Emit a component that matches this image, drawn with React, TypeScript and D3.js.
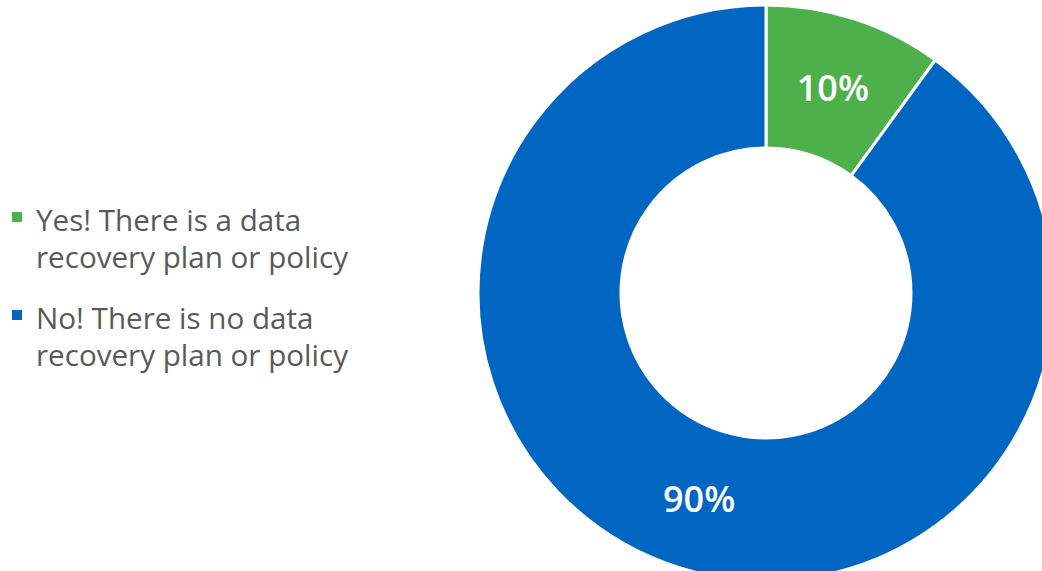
import React from "react";
import * as d3 from "d3";

const categories = [
  "Yes! There is a data recovery plan or policy",
  "No! There is no data recovery plan or policy",
];
const values = [10, 90];
const legendLines = [
  ["Yes! There is a data", "recovery plan or policy"],
  ["No! There is no data", "recovery plan or policy"],
];
const colors = ["#4EB04B", "#0066C2"];

const W = 1042;
const H = 571;
const cx = 766;
const cy = 293;
const outerR = 288;
const innerR = 145;

export default function App() {
  const pie = d3.pie<number>().sort(null).value((d) => d);
  const arcs = pie(values);
  const arc = d3.arc<d3.PieArcDatum<number>>().innerRadius(innerR).outerRadius(outerR);
  const total = d3.sum(values);
  const fmt = (v: number) => `${Math.round((v / total) * 100)}%`;

  return (
    <svg
      width={W}
      height={H}
      style={{ position: "absolute", left: 0, top: 0, background: "#fff" }}
      fontFamily="'Open Sans', sans-serif"
    >
      <g transform={`translate(${cx},${cy})`}>
        {arcs.map((a, i) => (
          <path key={categories[i]} d={arc(a) || ""} fill={colors[i]} stroke="#fff" strokeWidth={3} />
        ))}
        {arcs.map((a, i) => {
          const [x, y] = arc.centroid(a);
          return (
            <text
              key={"l" + i}
              x={x}
              y={y}
              fill="#fff"
              fontSize={36}
              fontWeight={600}
              textAnchor="middle"
              dominantBaseline="central"
            >
              {fmt(a.data)}
            </text>
          );
        })}
      </g>
      {legendLines.map((lines, i) => {
        const y0 = 231 + i * 98;
        return (
          <g key={"leg" + i}>
            <rect x={12} y={y0 - 19} width={10} height={10} fill={colors[i]} />
            {lines.map((t, j) => (
              <text key={j} x={36} y={y0 + j * 37} fontSize={29.6} fill="#595959">
                {t}
              </text>
            ))}
          </g>
        );
      })}
    </svg>
  );
}
